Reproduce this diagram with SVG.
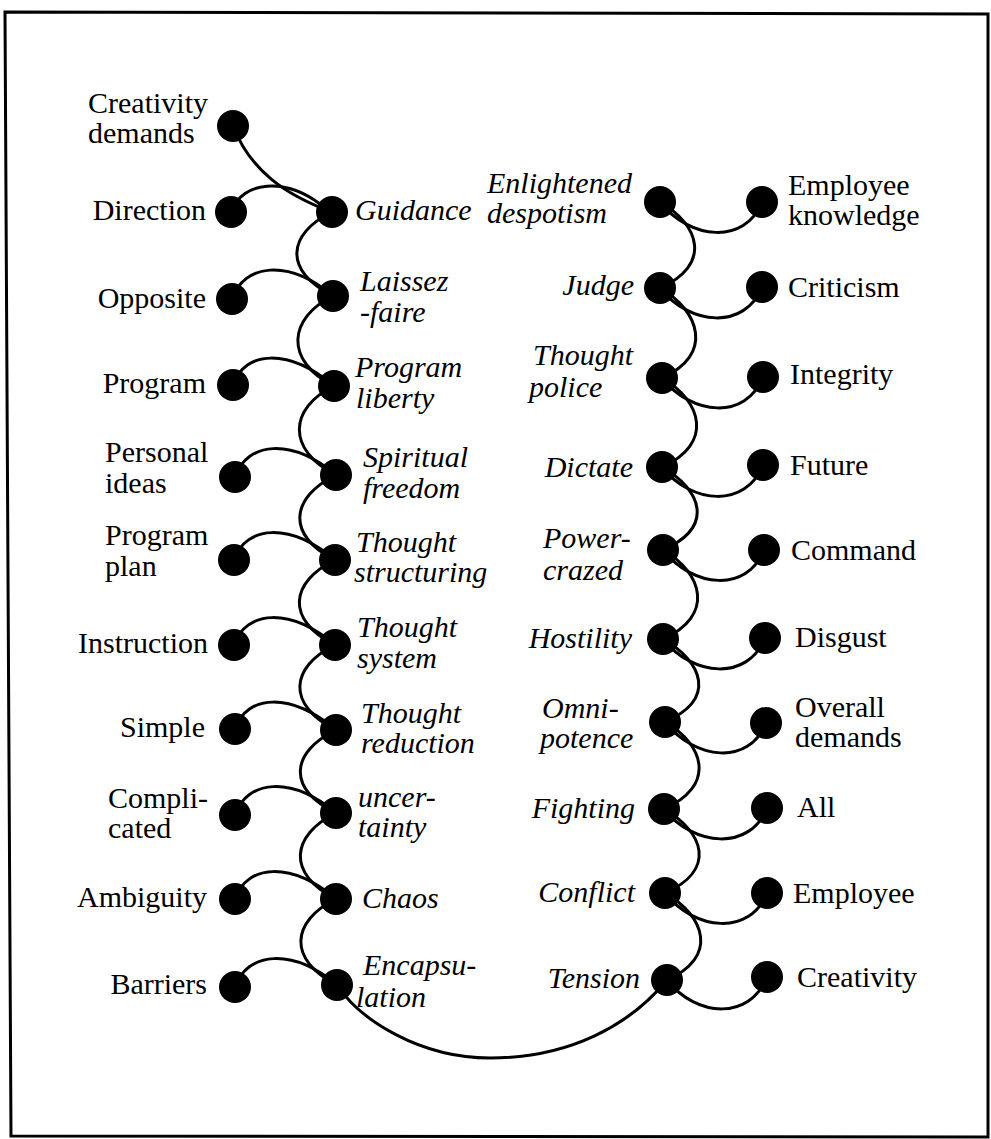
<svg xmlns="http://www.w3.org/2000/svg" width="991" height="1139" viewBox="0 0 991 1139">
<style>
text{font-family:"Liberation Serif","Times New Roman",serif;font-size:30px;fill:#000}
.i{font-style:italic}
.e{text-anchor:end}
.n{fill:#000}
.c{fill:none;stroke:#000;stroke-width:3;stroke-linecap:round}
</style>
<rect width="991" height="1139" fill="#fff"/>
<polygon points="5,12 988,14 988,1137 11,1136" fill="none" stroke="#000" stroke-width="3"/>
<g id="connectors" class="c">
<path d="M233,126 C250,170 285,195 332,212"/>
<path d="M231,212 C243,180 285,178 320,204"/>
<path d="M332,212 C287,234 283,271 333,296"/>
<path d="M232,299 C244,264 288,258 333,296"/>
<path d="M333,296 C288,318 284,361 334,386"/>
<path d="M233,385 C245,350 289,348 334,386"/>
<path d="M334,386 C289,408 286,450 336,475"/>
<path d="M235,477 C247,442 291,437 336,475"/>
<path d="M336,475 C291,497 285,535 335,560"/>
<path d="M234,560 C246,525 290,522 335,560"/>
<path d="M335,560 C290,582 285,620 335,645"/>
<path d="M234,645 C246,610 290,607 335,645"/>
<path d="M335,645 C290,667 286,705 336,730"/>
<path d="M235,729 C247,694 291,692 336,730"/>
<path d="M336,730 C291,752 286,788 336,813"/>
<path d="M235,815 C247,780 291,775 336,813"/>
<path d="M336,813 C291,835 286,874 336,899"/>
<path d="M235,899 C247,864 291,861 336,899"/>
<path d="M336,899 C291,921 287,960 337,985"/>
<path d="M235,987 C247,952 292,947 337,985"/>
<path d="M337,985 C360,1020 420,1058 490,1058 C570,1058 630,1025 667,980"/>
<path d="M660,202 C690,240 745,245 762,202"/>
<path d="M660,202 C700,225 712,265 660,288"/>
<path d="M660,288 C690,326 745,330 762,287"/>
<path d="M660,288 C700,311 714,355 662,378"/>
<path d="M662,378 C692,416 746,420 763,377"/>
<path d="M662,378 C702,401 714,444 662,467"/>
<path d="M662,467 C692,505 746,508 763,465"/>
<path d="M662,467 C702,490 715,527 663,550"/>
<path d="M663,550 C693,588 747,593 764,550"/>
<path d="M663,550 C703,573 715,616 663,639"/>
<path d="M663,639 C693,677 748,681 765,638"/>
<path d="M663,639 C703,662 717,699 665,722"/>
<path d="M665,722 C695,760 749,766 766,723"/>
<path d="M665,722 C705,745 716,786 664,809"/>
<path d="M664,809 C694,847 750,851 767,808"/>
<path d="M664,809 C704,832 717,870 665,893"/>
<path d="M665,893 C695,931 750,936 767,893"/>
<path d="M665,893 C705,916 719,957 667,980"/>
<path d="M667,980 C697,1018 750,1020 767,977"/>
</g>
<g id="n-creativity-demands"><circle class="n" cx="233" cy="126" r="16"/><text x="88" y="113">Creativity</text><text x="88" y="143">demands</text></g>
<g id="n-direction"><circle class="n" cx="231" cy="212" r="16"/><text class="e" x="206" y="220">Direction</text></g>
<g id="n-opposite"><circle class="n" cx="232" cy="299" r="16"/><text class="e" x="206" y="308">Opposite</text></g>
<g id="n-program"><circle class="n" cx="233" cy="385" r="16"/><text class="e" x="206" y="393">Program</text></g>
<g id="n-personal-ideas"><circle class="n" cx="235" cy="477" r="16"/><text x="105" y="462">Personal</text><text x="105" y="493">ideas</text></g>
<g id="n-program-plan"><circle class="n" cx="234" cy="560" r="16"/><text x="105" y="545">Program</text><text x="105" y="576">plan</text></g>
<g id="n-instruction"><circle class="n" cx="234" cy="645" r="16"/><text class="e" x="208" y="653">Instruction</text></g>
<g id="n-simple"><circle class="n" cx="235" cy="729" r="16"/><text class="e" x="205" y="737">Simple</text></g>
<g id="n-complicated"><circle class="n" cx="235" cy="815" r="16"/><text x="108" y="808">Compli-</text><text x="108" y="838">cated</text></g>
<g id="n-ambiguity"><circle class="n" cx="235" cy="899" r="16"/><text class="e" x="207" y="907">Ambiguity</text></g>
<g id="n-barriers"><circle class="n" cx="235" cy="987" r="16"/><text class="e" x="207" y="994">Barriers</text></g>
<g id="n-guidance"><circle class="n" cx="332" cy="212" r="16"/><text class="i" x="355" y="220">Guidance</text></g>
<g id="n-laissez-faire"><circle class="n" cx="333" cy="296" r="16"/><text class="i" x="360" y="291">Laissez</text><text class="i" x="360" y="322">-faire</text></g>
<g id="n-program-liberty"><circle class="n" cx="334" cy="386" r="16"/><text class="i" x="355" y="377">Program</text><text class="i" x="356" y="408">liberty</text></g>
<g id="n-spiritual-freedom"><circle class="n" cx="336" cy="475" r="16"/><text class="i" x="363" y="467">Spiritual</text><text class="i" x="363" y="498">freedom</text></g>
<g id="n-thought-structuring"><circle class="n" cx="335" cy="560" r="16"/><text class="i" x="356" y="552">Thought</text><text class="i" x="354" y="582">structuring</text></g>
<g id="n-thought-system"><circle class="n" cx="335" cy="645" r="16"/><text class="i" x="357" y="637">Thought</text><text class="i" x="357" y="668">system</text></g>
<g id="n-thought-reduction"><circle class="n" cx="336" cy="730" r="16"/><text class="i" x="361" y="723">Thought</text><text class="i" x="361" y="753">reduction</text></g>
<g id="n-uncertainty"><circle class="n" cx="336" cy="813" r="16"/><text class="i" x="358" y="807">uncer-</text><text class="i" x="358" y="837">tainty</text></g>
<g id="n-chaos"><circle class="n" cx="336" cy="899" r="16"/><text class="i" x="362" y="908">Chaos</text></g>
<g id="n-encapsulation"><circle class="n" cx="337" cy="985" r="16"/><text class="i" x="363" y="975">Encapsu-</text><text class="i" x="356" y="1007">lation</text></g>
<g id="n-enlightened-despotism"><circle class="n" cx="660" cy="202" r="16"/><text class="i" x="487" y="193">Enlightened</text><text class="i" x="487" y="223">despotism</text></g>
<g id="n-judge"><circle class="n" cx="660" cy="288" r="16"/><text class="i e" x="634" y="295">Judge</text></g>
<g id="n-thought-police"><circle class="n" cx="662" cy="378" r="16"/><text class="i" x="533" y="365">Thought</text><text class="i" x="529" y="397">police</text></g>
<g id="n-dictate"><circle class="n" cx="662" cy="467" r="16"/><text class="i e" x="633" y="477">Dictate</text></g>
<g id="n-power-crazed"><circle class="n" cx="663" cy="550" r="16"/><text class="i" x="543" y="548">Power-</text><text class="i" x="543" y="580">crazed</text></g>
<g id="n-hostility"><circle class="n" cx="663" cy="639" r="16"/><text class="i e" x="632" y="648">Hostility</text></g>
<g id="n-omnipotence"><circle class="n" cx="665" cy="722" r="16"/><text class="i" x="542" y="718">Omni-</text><text class="i" x="540" y="748">potence</text></g>
<g id="n-fighting"><circle class="n" cx="664" cy="809" r="16"/><text class="i e" x="635" y="818">Fighting</text></g>
<g id="n-conflict"><circle class="n" cx="665" cy="893" r="16"/><text class="i e" x="635" y="902">Conflict</text></g>
<g id="n-tension"><circle class="n" cx="667" cy="980" r="16"/><text class="i e" x="640" y="988">Tension</text></g>
<g id="n-employee-knowledge"><circle class="n" cx="762" cy="202" r="16"/><text x="788" y="195">Employee</text><text x="788" y="225">knowledge</text></g>
<g id="n-criticism"><circle class="n" cx="762" cy="287" r="16"/><text x="788" y="297">Criticism</text></g>
<g id="n-integrity"><circle class="n" cx="763" cy="377" r="16"/><text x="790" y="384">Integrity</text></g>
<g id="n-future"><circle class="n" cx="763" cy="465" r="16"/><text x="790" y="475">Future</text></g>
<g id="n-command"><circle class="n" cx="764" cy="550" r="16"/><text x="791" y="560">Command</text></g>
<g id="n-disgust"><circle class="n" cx="765" cy="638" r="16"/><text x="795" y="647">Disgust</text></g>
<g id="n-overall-demands"><circle class="n" cx="766" cy="723" r="16"/><text x="795" y="717">Overall</text><text x="795" y="747">demands</text></g>
<g id="n-all"><circle class="n" cx="767" cy="808" r="16"/><text x="797" y="817">All</text></g>
<g id="n-employee"><circle class="n" cx="767" cy="893" r="16"/><text x="793" y="903">Employee</text></g>
<g id="n-creativity"><circle class="n" cx="767" cy="977" r="16"/><text x="797" y="987">Creativity</text></g>
</svg>
